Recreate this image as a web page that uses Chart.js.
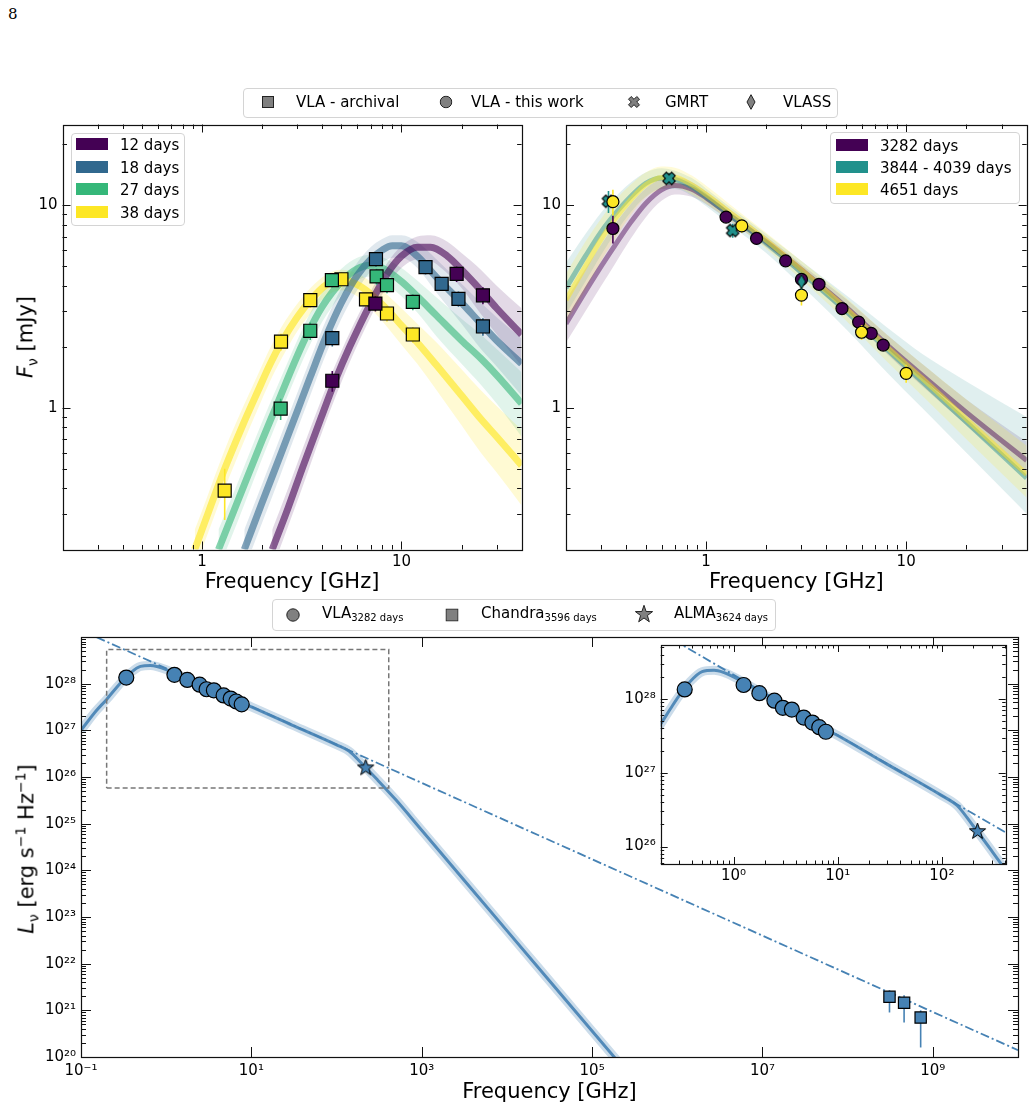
<!DOCTYPE html>
<html>
<head>
<meta charset="utf-8">
<title>Radio SED</title>
<script src="https://cdn.jsdelivr.net/npm/chart.js@4.4.1/dist/chart.umd.min.js"></script>
<style>
  body { margin: 0; width: 1034px; height: 1115px; position: relative; overflow: hidden; background: #fff; font-family: "DejaVu Sans", sans-serif; color: #000; }
  canvas { position: absolute; }
  .lg { position: absolute; background: rgba(255,255,255,0.85); border: 1px solid #d4d4d4; border-radius: 4px; box-sizing: border-box; }
  .it { position: absolute; font-size: 15px; line-height: 1; white-space: nowrap; transform: translateY(-50%); }
  .it sub { font-size: 10px; vertical-align: -3px; }
  .mk { position: absolute; transform: translate(-50%,-50%); line-height: 0; }
  .sw { position: absolute; width: 32px; height: 12px; transform: translateY(-50%); }
  .yt { position: absolute; font-size: 21px; white-space: nowrap; transform: translate(-50%,-50%) rotate(-90deg); }
  .yt sub { font-size: 14px; }
  .yt sup { font-size: 14px; }
  #page { position: absolute; left: 8px; top: 5px; font-family: "DejaVu Serif", serif; font-size: 15px; }
</style>
</head>
<body>
<div id="page">8</div>
<canvas id="tl"></canvas>
<canvas id="tr"></canvas>
<canvas id="bot"></canvas>
<canvas id="ins"></canvas>

<div class="yt" style="left:27px;top:337px"><i>F</i><sub>ν</sub> [mJy]</div>
<div class="yt" style="left:27px;top:849px"><i>L</i><sub>ν</sub> [erg s<sup>−1</sup> Hz<sup>−1</sup>]</div>

<!-- shared legend, top panels -->
<div class="lg" style="left:243px;top:88px;width:595px;height:30px"></div>
<div class="mk" style="left:268px;top:102px"><svg width="12" height="12"><rect x="0.5" y="0.5" width="11" height="11" fill="#808080" stroke="#222"/></svg></div>
<div class="it" style="left:296px;top:102px">VLA - archival</div>
<div class="mk" style="left:446px;top:102px"><svg width="13" height="13"><circle cx="6.5" cy="6.5" r="5.8" fill="#808080" stroke="#222"/></svg></div>
<div class="it" style="left:471px;top:102px">VLA - this work</div>
<div class="mk" style="left:634px;top:102px"><svg width="14" height="14"><path d="M1.5 4.2 L4.2 1.5 L7 4.3 L9.8 1.5 L12.5 4.2 L9.7 7 L12.5 9.8 L9.8 12.5 L7 9.7 L4.2 12.5 L1.5 9.8 L4.3 7 Z" fill="#808080" stroke="#222"/></svg></div>
<div class="it" style="left:665px;top:102px">GMRT</div>
<div class="mk" style="left:751px;top:102px"><svg width="10" height="16"><path d="M5 0.7 L9 8 L5 15.3 L1 8 Z" fill="#808080" stroke="#222"/></svg></div>
<div class="it" style="left:783px;top:102px">VLASS</div>

<!-- legend, top-left epochs -->
<div class="lg" style="left:71px;top:133px;width:114px;height:93px"></div>
<div class="sw" style="left:76px;top:144px;background:rgb(68,1,84)"></div><div class="it" style="left:120px;top:145px">12 days</div>
<div class="sw" style="left:76px;top:167px;background:rgb(49,104,142)"></div><div class="it" style="left:120px;top:168px">18 days</div>
<div class="sw" style="left:76px;top:189px;background:rgb(53,183,121)"></div><div class="it" style="left:120px;top:190px">27 days</div>
<div class="sw" style="left:76px;top:212px;background:rgb(253,231,37)"></div><div class="it" style="left:120px;top:213px">38 days</div>

<!-- legend, top-right epochs -->
<div class="lg" style="left:830px;top:132px;width:190px;height:72px"></div>
<div class="sw" style="left:836px;top:145px;background:rgb(68,1,84)"></div><div class="it" style="left:880px;top:146px">3282 days</div>
<div class="sw" style="left:836px;top:167px;background:rgb(33,145,140)"></div><div class="it" style="left:880px;top:168px">3844 - 4039 days</div>
<div class="sw" style="left:836px;top:189px;background:rgb(253,231,37)"></div><div class="it" style="left:880px;top:190px">4651 days</div>

<!-- legend, bottom panel -->
<div class="lg" style="left:272px;top:599px;width:504px;height:32px"></div>
<div class="mk" style="left:293px;top:615px"><svg width="14" height="14"><circle cx="7" cy="7" r="6.2" fill="#808080" stroke="#222"/></svg></div>
<div class="it" style="left:322px;top:614px">VLA<sub>3282 days</sub></div>
<div class="mk" style="left:452px;top:615px"><svg width="13" height="13"><rect x="0.5" y="0.5" width="12" height="12" fill="#808080" stroke="#222"/></svg></div>
<div class="it" style="left:481px;top:614px">Chandra<sub>3596 days</sub></div>
<div class="mk" style="left:644px;top:614px"><svg width="19" height="19"><path d="M9.5 0.8 L11.6 7 L18.1 7.1 L12.9 11 L14.8 17.3 L9.5 13.5 L4.2 17.3 L6.1 11 L0.9 7.1 L7.4 7 Z" fill="#808080" stroke="#222"/></svg></div>
<div class="it" style="left:674px;top:614px">ALMA<sub>3624 days</sub></div>

<script>
// ---------- top-left: VLA archival, early epochs (GHz, mJy) ----------
const tlFreq12 = [4.5, 7.4, 18.9, 25.6];
const tlFlux12 = [1.36, 3.27, 4.58, 3.59];
const tlErr12 = [0.16, 0.28, 0.4, 0.35];
const tlFreq18 = [4.5, 7.45, 13.2, 15.9, 19.3, 25.6];
const tlFlux18 = [2.21, 5.42, 4.95, 4.09, 3.45, 2.52];
const tlErr18 = [0.2, 0.45, 0.4, 0.32, 0.3, 0.25];
const tlFreq27 = [2.48, 3.49, 4.48, 7.5, 8.46, 11.4];
const tlFlux27 = [0.99, 2.40, 4.27, 4.45, 4.03, 3.33];
const tlErr27 = [0.12, 0.24, 0.35, 0.4, 0.35, 0.3];
const tlFreq38 = [1.30, 2.49, 3.49, 5.0, 6.64, 8.46, 11.4];
const tlFlux38 = [0.39, 2.12, 3.40, 4.31, 3.43, 2.92, 2.30];
const tlErr38 = [0.11, 0.2, 0.28, 0.35, 0.28, 0.25, 0.2];

// model spread: frequency grid, lower edge, centre, upper edge
const tlModFreq12 = [2.25, 2.7, 3.2, 4.0, 4.65, 5.5, 7.0, 8.5, 10, 12, 14, 17, 20, 25, 30, 40];
const tlModMid12 = [0.20, 0.32, 0.51, 0.92, 1.36, 2.0, 3.27, 4.6, 5.6, 6.2, 6.2, 5.6, 4.8, 3.8, 3.1, 2.3];
const tlModHi12 = [0.25, 0.40, 0.63, 1.12, 1.62, 2.35, 3.75, 5.2, 6.3, 7.0, 7.1, 6.6, 5.8, 4.8, 4.0, 3.1];
const tlModLo12 = [0.16, 0.26, 0.41, 0.76, 1.12, 1.68, 2.8, 4.0, 4.9, 5.4, 5.3, 4.6, 3.9, 2.9, 2.3, 1.6];
const tlModFreq18 = [1.63, 2.0, 2.5, 3.0, 3.5, 4.15, 5.0, 6.0, 7.0, 8.0, 9.0, 10, 12, 15, 20, 25, 30, 40];
const tlModMid18 = [0.20, 0.34, 0.60, 0.96, 1.43, 2.2, 3.3, 4.5, 5.4, 6.0, 6.3, 6.3, 5.6, 4.4, 3.3, 2.6, 2.15, 1.65];
const tlModHi18 = [0.25, 0.42, 0.74, 1.18, 1.75, 2.65, 3.9, 5.2, 6.2, 6.8, 7.1, 7.1, 6.6, 5.4, 4.1, 3.3, 2.8, 2.2];
const tlModLo18 = [0.16, 0.27, 0.48, 0.78, 1.16, 1.8, 2.75, 3.8, 4.7, 5.2, 5.5, 5.5, 4.9, 3.7, 2.6, 1.95, 1.6, 1.15];
const tlModFreq27 = [1.21, 1.5, 2.0, 2.34, 3.0, 3.4, 4.0, 5.0, 6.0, 7.0, 8.0, 10, 12, 15, 20, 25, 30, 40];
const tlModMid27 = [0.20, 0.34, 0.69, 1.0, 1.8, 2.35, 3.15, 4.2, 4.85, 5.05, 4.9, 4.2, 3.55, 2.85, 2.15, 1.75, 1.45, 1.05];
const tlModHi27 = [0.25, 0.42, 0.85, 1.22, 2.15, 2.8, 3.7, 4.85, 5.5, 5.7, 5.55, 4.9, 4.25, 3.5, 2.75, 2.3, 1.95, 1.5];
const tlModLo27 = [0.16, 0.27, 0.56, 0.82, 1.48, 1.95, 2.65, 3.6, 4.25, 4.45, 4.25, 3.55, 2.95, 2.25, 1.65, 1.3, 1.05, 0.72];
const tlModFreq38 = [0.92, 1.0, 1.3, 1.6, 1.9, 2.2, 2.5, 3.0, 3.5, 4.2, 5.0, 6.0, 7.0, 8.5, 10, 12, 15, 20, 25, 30, 40];
const tlModMid38 = [0.20, 0.25, 0.50, 0.82, 1.2, 1.65, 2.1, 2.8, 3.4, 4.05, 4.3, 4.05, 3.65, 3.05, 2.55, 2.1, 1.62, 1.15, 0.88, 0.72, 0.52];
const tlModHi38 = [0.25, 0.31, 0.62, 1.0, 1.45, 1.98, 2.5, 3.25, 3.9, 4.55, 4.8, 4.6, 4.2, 3.6, 3.1, 2.6, 2.1, 1.55, 1.22, 1.02, 0.78];
const tlModLo38 = [0.16, 0.2, 0.40, 0.66, 0.98, 1.36, 1.74, 2.38, 2.92, 3.55, 3.8, 3.55, 3.1, 2.5, 2.05, 1.65, 1.22, 0.82, 0.6, 0.48, 0.33];

// ---------- top-right: late epochs ----------
const trFreqA = [0.343, 1.26, 1.79, 2.50, 3.0, 3.67, 4.78, 5.79, 6.69, 7.68];
const trFluxA = [7.67, 8.73, 6.85, 5.31, 4.3, 4.07, 3.09, 2.65, 2.33, 2.04];
const trErrA = [1.2, 0.3, 0.25, 0.2, 0.2, 0.15, 0.12, 0.1, 0.1, 0.1];
const trGmrtFreq = [0.326, 0.654, 1.36];
const trGmrtFlux = [10.45, 13.55, 7.5];
const trGmrtErr = [1.3, 0.9, 0.6];
const trVlassFreq = [3.0];
const trVlassFlux = [4.19];
const trVlassErr = [0.35];
const trFreqC = [0.343, 1.51, 3.0, 5.99, 10.0];
const trFluxC = [10.4, 7.9, 3.6, 2.36, 1.48];
const trErrC = [1.5, 0.6, 0.4, 0.2, 0.15];

const trModFreq = [0.2, 0.25, 0.3, 0.35, 0.42, 0.5, 0.6, 0.7, 0.85, 1.0, 1.3, 2.0, 3.0, 5.0, 8.0, 12, 20, 40];
const trModMidA = [2.6, 3.75, 5.0, 6.3, 8.2, 10.2, 11.9, 12.5, 12.0, 10.9, 9.0, 6.6, 4.8, 3.15, 2.05, 1.45, 0.95, 0.55];
const trModHiA = [3.4, 4.85, 6.4, 8.0, 10.1, 12.1, 13.5, 13.8, 13.0, 11.7, 9.6, 7.0, 5.1, 3.45, 2.3, 1.65, 1.1, 0.68];
const trModLoA = [2.1, 3.0, 4.0, 5.1, 6.8, 8.7, 10.5, 11.3, 11.0, 10.1, 8.4, 6.2, 4.5, 2.9, 1.85, 1.28, 0.82, 0.45];
const trModMidB = [3.9, 5.6, 7.4, 9.0, 11.0, 12.8, 13.6, 13.4, 12.3, 11.0, 9.0, 6.5, 4.65, 3.0, 1.95, 1.35, 0.85, 0.45];
const trModHiB = [5.2, 7.2, 9.2, 10.9, 12.9, 14.5, 15.2, 14.8, 13.6, 12.1, 9.9, 7.2, 5.3, 3.6, 2.5, 1.85, 1.35, 0.9];
const trModLoB = [2.9, 4.2, 5.7, 7.2, 9.2, 11.0, 12.0, 12.0, 11.1, 9.9, 8.1, 5.8, 4.0, 2.45, 1.5, 1.0, 0.6, 0.3];
const trModMidC = [3.4, 5.0, 6.8, 8.5, 10.6, 12.6, 13.7, 13.7, 12.6, 11.3, 9.3, 6.7, 4.8, 3.1, 2.0, 1.4, 0.88, 0.47];
const trModHiC = [4.6, 6.6, 8.6, 10.5, 12.6, 14.5, 15.5, 15.3, 14.0, 12.5, 10.2, 7.3, 5.3, 3.5, 2.3, 1.65, 1.1, 0.65];
const trModLoC = [2.6, 3.8, 5.3, 6.8, 8.9, 10.9, 12.0, 12.2, 11.3, 10.2, 8.5, 6.1, 4.3, 2.7, 1.7, 1.15, 0.7, 0.36];

// ---------- bottom: broadband SED (GHz, erg/s/Hz) ----------
const vlaFreq = [0.34, 1.25, 1.77, 2.47, 2.98, 3.63, 4.72, 5.72, 6.65, 7.7];
const vlaLum = [1.35e28, 1.55e28, 1.2e28, 9.5e27, 7.6e27, 7.2e27, 5.6e27, 4.8e27, 4.15e27, 3.6e27];
const vlaErr = [1.2e27, 4e26, 3e26, 2.5e26, 2e26, 2e26, 1.5e26, 1.2e26, 1e26, 1e26];
const chandraFreq = [3.1e8, 4.6e8, 7.2e8];
const chandraLum = [1.95e21, 1.45e21, 7.0e20];
const chandraLo = [9e20, 5.5e20, 1.6e20];
const chandraHi = [2.7e21, 2.1e21, 1.0e21];
const almaFreq = [220];
const almaLum = [1.65e26];
const sedFreq = [0.1, 0.15, 0.2, 0.25, 0.3, 0.38, 0.5, 0.65, 0.8, 1.0, 2.0, 5.0, 10, 30, 100, 140, 200, 300, 500, 1e3, 1e4, 1e5, 3e5];
const sedLum = [1.0e27, 2.6e27, 4.6e27, 7.5e27, 1.1e28, 1.7e28, 2.35e28, 2.45e28, 2.3e28, 2.0e28, 1.15e28, 5.4e27, 3.2e27, 1.3e27, 4.9e26, 3.6e26, 1.9e26, 8.8e25, 3.2e25, 7.2e24, 5.1e22, 3.6e20, 3.4e19];
const plFreq = [0.1, 1e10];
const plLum = [1.4e29, 1.4e20];
const insetX = [0.2, 410];
const insetY = [5.8e25, 5.4e28];

// tick labels
const tlXTicks = [1, 10];
const tlYTicks = [1, 10];
const botXTicks = [0.1, 10, 1e3, 1e5, 1e7, 1e9];
const botYTicks = [1e20, 1e21, 1e22, 1e23, 1e24, 1e25, 1e26, 1e27, 1e28];
const insXTicks = [1, 10, 100];
const insYTicks = [1e26, 1e27, 1e28];

const FONT = '"DejaVu Sans", sans-serif';
const C = { p: '68,1,84', b: '49,104,142', g: '53,183,121', y: '253,231,37', t: '33,145,140', s: '70,130,180' };
const rgba = (c, a) => 'rgba(' + c + ',' + a + ')';
const pts = (xs, ys) => xs.map((x, i) => ({ x: x, y: ys[i] }));
const SUP = { '0': '⁰', '1': '¹', '2': '²', '3': '³', '4': '⁴', '5': '⁵', '6': '⁶', '7': '⁷', '8': '⁸', '9': '⁹', '-': '⁻' };
const pow10 = v => '10' + String(Math.round(Math.log10(v))).split('').map(ch => SUP[ch]).join('');

function minorVals(min, max) {
  const out = [];
  for (let e = Math.floor(Math.log10(min)); e <= Math.ceil(Math.log10(max)); e++) {
    for (let k = 2; k <= 9; k++) {
      const v = k * Math.pow(10, e);
      if (v > min && v < max) out.push(v);
    }
  }
  return out;
}

// custom marker sprites
function spriteX(fill, size) {
  const c = document.createElement('canvas'); c.width = c.height = size;
  const g = c.getContext('2d'), s = size / 2 - 1, w = s * 0.4;
  g.translate(size / 2, size / 2); g.rotate(Math.PI / 4); g.scale(0.9, 0.9);
  g.beginPath();
  [[-w, -s], [w, -s], [w, -w], [s, -w], [s, w], [w, w], [w, s], [-w, s], [-w, w], [-s, w], [-s, -w], [-w, -w]].forEach((p, i) => i ? g.lineTo(p[0], p[1]) : g.moveTo(p[0], p[1]));
  g.closePath(); g.fillStyle = fill; g.fill(); g.lineWidth = 1.2; g.strokeStyle = '#000'; g.stroke();
  return c;
}
function spriteDiamond(fill, w, h) {
  const c = document.createElement('canvas'); c.width = w; c.height = h;
  const g = c.getContext('2d');
  g.beginPath(); g.moveTo(w / 2, 1); g.lineTo(w - 1, h / 2); g.lineTo(w / 2, h - 1); g.lineTo(1, h / 2); g.closePath();
  g.fillStyle = fill; g.fill(); g.lineWidth = 1; g.strokeStyle = '#000'; g.stroke();
  return c;
}
function spriteStar(fill, size) {
  const c = document.createElement('canvas'); c.width = c.height = size;
  const g = c.getContext('2d'), R = size / 2 - 1, r = R * 0.4;
  g.translate(size / 2, size / 2 + 1);
  g.beginPath();
  for (let i = 0; i < 10; i++) {
    const a = -Math.PI / 2 + i * Math.PI / 5, rr = i % 2 ? r : R;
    i ? g.lineTo(rr * Math.cos(a), rr * Math.sin(a)) : g.moveTo(rr * Math.cos(a), rr * Math.sin(a));
  }
  g.closePath(); g.fillStyle = fill; g.fill(); g.lineWidth = 1; g.strokeStyle = '#000'; g.stroke();
  return c;
}

// vertical error bars drawn just under each marker set
const errorBars = {
  id: 'errorBars',
  beforeDatasetDraw(chart, args) {
    const ds = chart.data.datasets[args.index];
    if (!ds.errLo) return;
    const ctx = chart.ctx, ys = chart.scales.y, a = chart.chartArea;
    ctx.save();
    ctx.beginPath(); ctx.rect(a.left, a.top, a.right - a.left, a.bottom - a.top); ctx.clip();
    ctx.strokeStyle = ds.errColor; ctx.lineWidth = ds.errWidth || 1.6;
    args.meta.data.forEach((pt, i) => {
      ctx.beginPath();
      ctx.moveTo(pt.x, ys.getPixelForValue(ds.errLo[i]));
      ctx.lineTo(pt.x, ys.getPixelForValue(ds.errHi[i]));
      ctx.stroke();
    });
    ctx.restore();
  }
};

// matplotlib-like frame with inward ticks on all four sides
const frameTicks = {
  id: 'frameTicks',
  beforeDraw(chart, args, o) {
    if (!o.whiteBg) return;
    const a = chart.chartArea, ctx = chart.ctx;
    ctx.save(); ctx.fillStyle = '#fff'; ctx.fillRect(a.left, a.top, a.right - a.left, a.bottom - a.top); ctx.restore();
  },
  afterDatasetsDraw(chart, args, o) {
    const ctx = chart.ctx, a = chart.chartArea, x = chart.scales.x, y = chart.scales.y;
    ctx.save();
    ctx.strokeStyle = '#111'; ctx.lineWidth = 1;
    ctx.beginPath();
    const xt = o.xMajor.map(v => [v, o.major]).concat(o.xMinor ? minorVals(x.min, x.max).map(v => [v, o.minor]) : []);
    xt.forEach(t => {
      const p = Math.round(x.getPixelForValue(t[0])) + 0.5;
      ctx.moveTo(p, a.bottom); ctx.lineTo(p, a.bottom - t[1]);
      ctx.moveTo(p, a.top); ctx.lineTo(p, a.top + t[1]);
    });
    const yt = o.yMajor.map(v => [v, o.major]).concat(o.yMinor ? minorVals(y.min, y.max).map(v => [v, o.minor]) : []);
    yt.forEach(t => {
      const p = Math.round(y.getPixelForValue(t[0])) + 0.5;
      ctx.moveTo(a.left, p); ctx.lineTo(a.left + t[1], p);
      ctx.moveTo(a.right, p); ctx.lineTo(a.right - t[1], p);
    });
    ctx.stroke();
    ctx.lineWidth = 1.2;
    ctx.strokeRect(Math.round(a.left) + 0.5, Math.round(a.top) + 0.5, Math.round(a.right - a.left), Math.round(a.bottom - a.top));
    ctx.restore();
  }
};

function band(freq, lo, mid, hi, col, aBand, aLine, wLine) {
  return [
    { data: pts(freq, hi), showLine: true, borderWidth: 0, pointRadius: 0, fill: '+1', backgroundColor: rgba(col, aBand), cubicInterpolationMode: 'monotone', order: 30 },
    { data: pts(freq, lo), showLine: true, borderWidth: 0, pointRadius: 0, fill: false, cubicInterpolationMode: 'monotone', order: 30 },
    { data: pts(freq, mid), showLine: true, borderColor: rgba(col, aLine), borderWidth: wLine, pointRadius: 0, fill: false, cubicInterpolationMode: 'monotone', order: 20 }
  ];
}
function markers(freq, val, lo, hi, style, radius, fillCol, errCol) {
  return {
    data: pts(freq, val), showLine: false, pointStyle: style, pointRadius: radius,
    pointBackgroundColor: fillCol, pointBorderColor: '#000', pointBorderWidth: 1.2,
    errLo: lo, errHi: hi, errColor: errCol, order: 0
  };
}
const minus = (v, e) => v.map((x, i) => x - e[i]);
const plus = (v, e) => v.map((x, i) => x + e[i]);

function axis(a, dir) {
  return {
    type: 'logarithmic', min: a.min, max: a.max,
    grid: { display: false, drawTicks: false }, border: { display: false },
    afterFit: s => { if (dir === 'x') s.height = a.size; else s.width = a.size; },
    afterBuildTicks: s => { s.ticks = a.labels.map(v => ({ value: v })); },
    ticks: { callback: a.fmt, autoSkip: false, maxRotation: 0, padding: a.pad, color: '#000', font: { family: FONT, size: 15 } },
    title: a.title ? { display: true, text: a.title, color: '#000', font: { family: FONT, size: 21 }, padding: { top: 0, bottom: a.tpad } } : { display: false }
  };
}
function makeChart(id, box, datasets, ax) {
  const cv = document.getElementById(id);
  cv.width = box.w; cv.height = box.h;
  cv.style.left = box.x + 'px'; cv.style.top = box.y + 'px';
  return new Chart(cv, {
    type: 'scatter',
    data: { datasets: datasets },
    options: {
      responsive: false, animation: false, events: [],
      layout: { padding: { left: 0, right: box.pr, top: box.pt, bottom: 0 } },
      plugins: { legend: { display: false }, tooltip: { enabled: false }, frameTicks: ax.frame },
      scales: { x: axis(ax.x, 'x'), y: axis(ax.y, 'y') }
    },
    plugins: [errorBars, frameTicks]
  });
}
const plain = v => String(v);

// ---------- top-left ----------
makeChart('tl', { x: 0, y: 95, w: 532, h: 510, pr: 9, pt: 29.5 }, [
  markers(tlFreq12, tlFlux12, minus(tlFlux12, tlErr12), plus(tlFlux12, tlErr12), 'rect', 9.2, rgba(C.p, 1), rgba(C.p, 1)),
  markers(tlFreq18, tlFlux18, minus(tlFlux18, tlErr18), plus(tlFlux18, tlErr18), 'rect', 9.2, rgba(C.b, 1), rgba(C.b, 1)),
  markers(tlFreq27, tlFlux27, minus(tlFlux27, tlErr27), plus(tlFlux27, tlErr27), 'rect', 9.2, rgba(C.g, 1), rgba(C.g, 1)),
  markers(tlFreq38, tlFlux38, minus(tlFlux38, tlErr38), plus(tlFlux38, tlErr38), 'rect', 9.2, rgba(C.y, 1), rgba(C.y, 1)),
  ...band(tlModFreq12, tlModLo12, tlModMid12, tlModHi12, C.p, 0.15, 0.6, 7),
  ...band(tlModFreq18, tlModLo18, tlModMid18, tlModHi18, C.b, 0.15, 0.6, 7),
  ...band(tlModFreq27, tlModLo27, tlModMid27, tlModHi27, C.g, 0.15, 0.6, 7),
  ...band(tlModFreq38, tlModLo38, tlModMid38, tlModHi38, C.y, 0.2, 0.65, 7)
], {
  x: { min: 0.2, max: 40, size: 55.5, labels: tlXTicks, fmt: plain, pad: 4, title: 'Frequency [GHz]', tpad: 9.4 },
  y: { min: 0.2, max: 25, size: 62.5, labels: tlYTicks, fmt: plain, pad: 5 },
  frame: { xMajor: [1, 10], xMinor: true, yMajor: [1, 10], yMinor: true, major: 8, minor: 4.5 }
});

// ---------- top-right ----------
makeChart('tr', { x: 532, y: 95, w: 502, h: 510, pr: 7.3, pt: 29.5 }, [
  markers(trVlassFreq, trVlassFlux, minus(trVlassFlux, trVlassErr), plus(trVlassFlux, trVlassErr), spriteDiamond(rgba(C.t, 1), 10, 16), 6, rgba(C.t, 1), rgba(C.t, 1)),
  markers(trFreqC, trFluxC, minus(trFluxC, trErrC), plus(trFluxC, trErrC), 'circle', 6, rgba(C.y, 1), rgba(C.y, 1)),
  markers(trGmrtFreq, trGmrtFlux, minus(trGmrtFlux, trGmrtErr), plus(trGmrtFlux, trGmrtErr), spriteX(rgba(C.t, 1), 16), 6, rgba(C.t, 1), rgba(C.t, 1)),
  markers(trFreqA, trFluxA, minus(trFluxA, trErrA), plus(trFluxA, trErrA), 'circle', 6, rgba(C.p, 1), rgba(C.p, 1)),
  ...band(trModFreq, trModLoC, trModMidC, trModHiC, C.y, 0.18, 0.5, 5),
  ...band(trModFreq, trModLoB, trModMidB, trModHiB, C.t, 0.14, 0.45, 5),
  ...band(trModFreq, trModLoA, trModMidA, trModHiA, C.p, 0.14, 0.45, 5)
], {
  x: { min: 0.2, max: 40, size: 55.5, labels: tlXTicks, fmt: plain, pad: 4, title: 'Frequency [GHz]', tpad: 9.4 },
  y: { min: 0.2, max: 25, size: 34, labels: tlYTicks, fmt: plain, pad: 5 },
  frame: { xMajor: [1, 10], xMinor: true, yMajor: [1, 10], yMinor: true, major: 8, minor: 4.5 }
});

// ---------- bottom: full SED ----------
const botSets = () => [
  markers(almaFreq, almaLum, null, null, spriteStar(rgba(C.s, 1), 19), 6, rgba(C.s, 1), rgba(C.s, 1)),
  markers(vlaFreq, vlaLum, minus(vlaLum, vlaErr), plus(vlaLum, vlaErr), 'circle', 7.5, rgba(C.s, 1), rgba(C.s, 1)),
  markers(chandraFreq, chandraLum, chandraLo, chandraHi, 'rect', 8, rgba(C.s, 1), rgba(C.s, 1)),
  { data: pts(plFreq, plLum), showLine: true, borderColor: rgba(C.s, 1), borderWidth: 1.8, borderDash: [9, 3, 2, 3], pointRadius: 0, order: 10 },
  { data: pts(sedFreq, sedLum), showLine: true, borderColor: rgba(C.s, 0.9), borderWidth: 3, pointRadius: 0, cubicInterpolationMode: 'monotone', order: 15 },
  { data: pts(sedFreq, sedLum), showLine: true, borderColor: rgba(C.s, 0.28), borderWidth: 9, pointRadius: 0, cubicInterpolationMode: 'monotone', order: 16 }
];
const bot = botSets();
bot.push({
  data: pts([insetX[0], insetX[1], insetX[1], insetX[0], insetX[0]], [insetY[0], insetY[0], insetY[1], insetY[1], insetY[0]]),
  showLine: true, borderColor: '#777', borderWidth: 1.5, borderDash: [5, 3], pointRadius: 0, order: 12
});
makeChart('bot', { x: 0, y: 612, w: 1034, h: 503, pr: 16, pt: 25 }, bot, {
  x: { min: 0.1, max: 1e10, size: 58, labels: botXTicks, fmt: pow10, pad: 5, title: 'Frequency [GHz]', tpad: 9.4 },
  y: { min: 1e20, max: 1e29, size: 81, labels: botYTicks, fmt: pow10, pad: 5 },
  frame: { xMajor: botXTicks, xMinor: false, yMajor: botYTicks.concat([1e29]), yMinor: true, major: 10, minor: 5 }
});

// ---------- inset zoom ----------
makeChart('ins', { x: 600, y: 620, w: 420, h: 270, pr: 14.3, pt: 25 }, botSets(), {
  x: { min: insetX[0], max: insetX[1], size: 26, labels: insXTicks, fmt: pow10, pad: 3 },
  y: { min: insetY[0], max: insetY[1], size: 60.7, labels: insYTicks, fmt: pow10, pad: 5 },
  frame: { xMajor: insXTicks, xMinor: true, yMajor: insYTicks, yMinor: true, major: 7, minor: 3.5, whiteBg: true }
});
</script>
</body>
</html>
